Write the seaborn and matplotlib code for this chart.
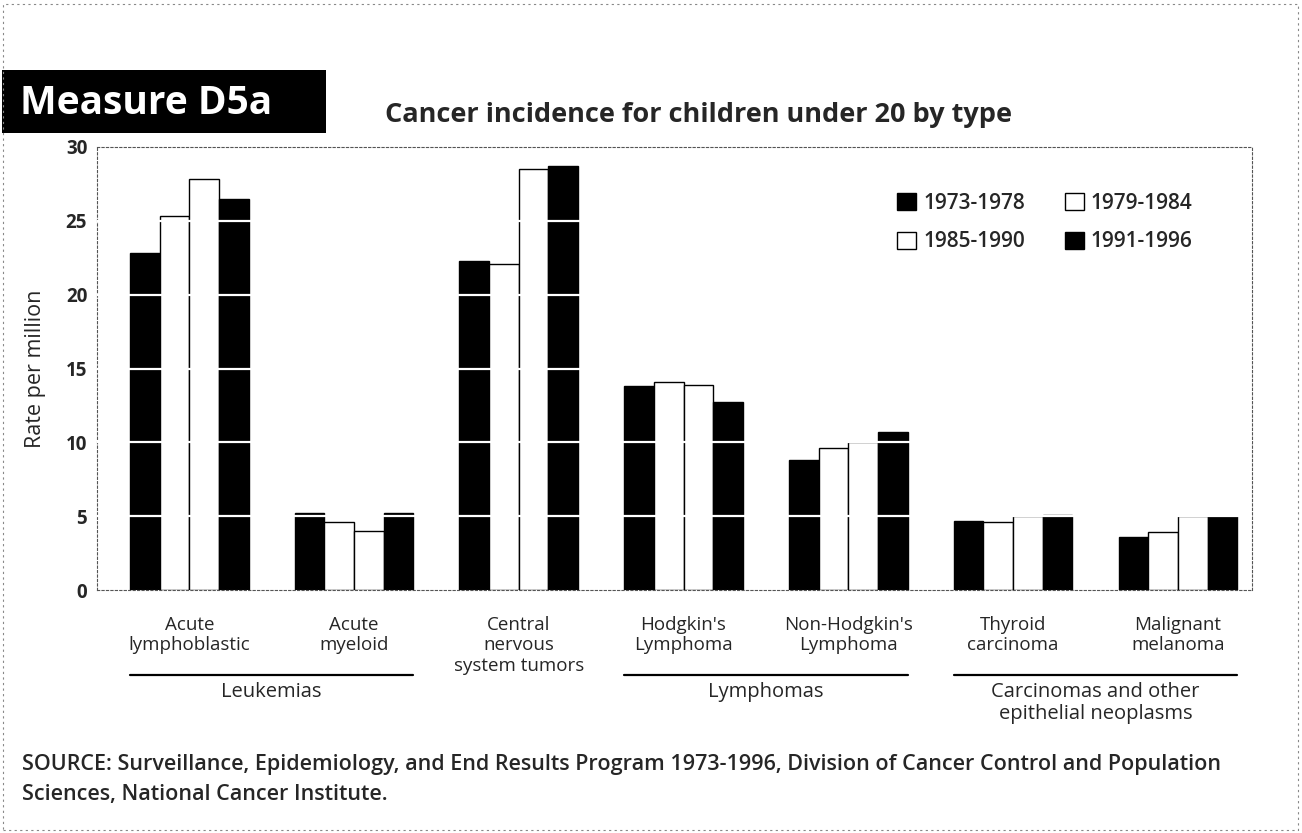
import numpy as np
import pandas as pd
import matplotlib
matplotlib.use('Agg')
import matplotlib.pyplot as plt
import matplotlib.transforms as mtransforms
from matplotlib.patches import Patch, Rectangle
import seaborn as sns

# Cancer incidence (rate per million) for children under 20
categories = ['Acute\nlymphoblastic', 'Acute\nmyeloid', 'Central\nnervous\nsystem tumors',
              "Hodgkin's\nLymphoma", "Non-Hodgkin's\nLymphoma", 'Thyroid\ncarcinoma',
              'Malignant\nmelanoma']
periods = ['1973-1978', '1979-1984', '1985-1990', '1991-1996']
rate_1973_1978 = [22.8, 5.2, 22.3, 13.8, 8.8, 4.7, 3.6]
rate_1979_1984 = [25.3, 4.6, 22.1, 14.1, 9.6, 4.6, 3.9]
rate_1985_1990 = [27.8, 4.0, 28.5, 13.9, 10.0, 5.0, 5.0]
rate_1991_1996 = [26.5, 5.2, 28.7, 12.7, 10.7, 5.1, 5.0]
groups = [('Leukemias', 0, 1), ('Lymphomas', 3, 4),
          ('Carcinomas and other\nepithelial neoplasms', 5, 6)]

df = pd.DataFrame({
    'type': categories * 4,
    'period': np.repeat(periods, len(categories)),
    'rate': rate_1973_1978 + rate_1979_1984 + rate_1985_1990 + rate_1991_1996,
})

colors = {'1973-1978': 'black', '1979-1984': 'white',
          '1985-1990': 'white', '1991-1996': 'black'}

sns.set_theme(style='white')
plt.rcParams['font.family'] = ['Open Sans', 'DejaVu Sans']

W, H = 1302, 833
fig = plt.figure(figsize=(W / 100, H / 100), dpi=100)
ax = fig.add_axes([97 / W, 1 - 590 / H, (1252 - 97) / W, (590 - 147) / H])

sns.barplot(data=df, x='type', y='rate', hue='period', order=categories,
            hue_order=periods, palette=colors, width=0.72, gap=0,
            edgecolor='black', linewidth=1, saturation=1, errorbar=None,
            legend=False, ax=ax)

# white grid lines cut through the bars
for y in [5, 10, 15, 20, 25]:
    ax.axhline(y, color='white', lw=1.6, zorder=5)

ax.set_ylim(0, 30)
ax.set_xlim(-0.56, 6.45)
ax.set_yticks(range(0, 31, 5))
ax.set_yticklabels([str(v) for v in range(0, 31, 5)], fontsize=13.5, fontweight='bold')
ax.set_xticks(range(len(categories)))
ax.set_xticklabels(categories, fontsize=13.5, linespacing=1.15)
ax.tick_params(axis='x', length=0, pad=19)
ax.tick_params(axis='y', length=0, pad=7)
ax.set_xlabel('')
ax.set_ylabel('Rate per million', fontsize=15.5)
ax.yaxis.set_label_coords((46 - 97) / 1155, 0.5)

for side in ['top', 'right', 'left', 'bottom']:
    ax.spines[side].set_color('#555555')
    ax.spines[side].set_linestyle((0, (2, 2)))
    ax.spines[side].set_linewidth(0.8)

# group brackets under the category labels
trans = mtransforms.blended_transform_factory(ax.transData, ax.transAxes)
for name, i, j in groups:
    ax.plot([i - 0.36, j + 0.36], [-0.192, -0.192], color='black', lw=1.6,
            transform=trans, clip_on=False)
    ax.text((i + j) / 2, -0.207, name, transform=trans, ha='center', va='top',
            fontsize=14.5, linespacing=1.15)

order = [0, 2, 1, 3]
handles = [Patch(facecolor=colors[periods[k]], edgecolor='black', label=periods[k])
           for k in order]
leg = ax.legend(handles=handles, ncol=2, loc='upper left', bbox_to_anchor=(0.693, 0.897),
                frameon=False, fontsize=15, handlelength=0.9, handleheight=0.9,
                handletextpad=0.35, columnspacing=1.9, labelspacing=0.85,
                borderaxespad=0, borderpad=0)
for t in leg.get_texts():
    t.set_fontweight('semibold')

# header box and title
fig.patches.append(Rectangle((2 / W, 1 - 133 / H), 324 / W, 63 / H,
                             transform=fig.transFigure, facecolor='black',
                             edgecolor='none'))
fig.text(20 / W, 1 - 103 / H, 'Measure D5a', color='white', fontsize=28,
         fontweight='bold', ha='left', va='center')
fig.text(385 / W, 1 - 115 / H, 'Cancer incidence for children under 20 by type',
         fontsize=19.5, fontweight='bold', ha='left', va='center')

fig.text(22 / W, 1 - 754 / H,
         'SOURCE: Surveillance, Epidemiology, and End Results Program 1973-1996, '
         'Division of Cancer Control and Population\nSciences, National Cancer Institute.',
         fontsize=15.5, fontweight='semibold', ha='left', va='top', linespacing=1.55)

# dotted page border from the scan
fig.patches.append(Rectangle((3 / W, 3 / H), (W - 7) / W, (H - 7) / H,
                             transform=fig.transFigure, facecolor='none',
                             edgecolor='#888888', lw=0.8, linestyle=(0, (2, 3))))

fig.savefig('out.png', dpi=100)
